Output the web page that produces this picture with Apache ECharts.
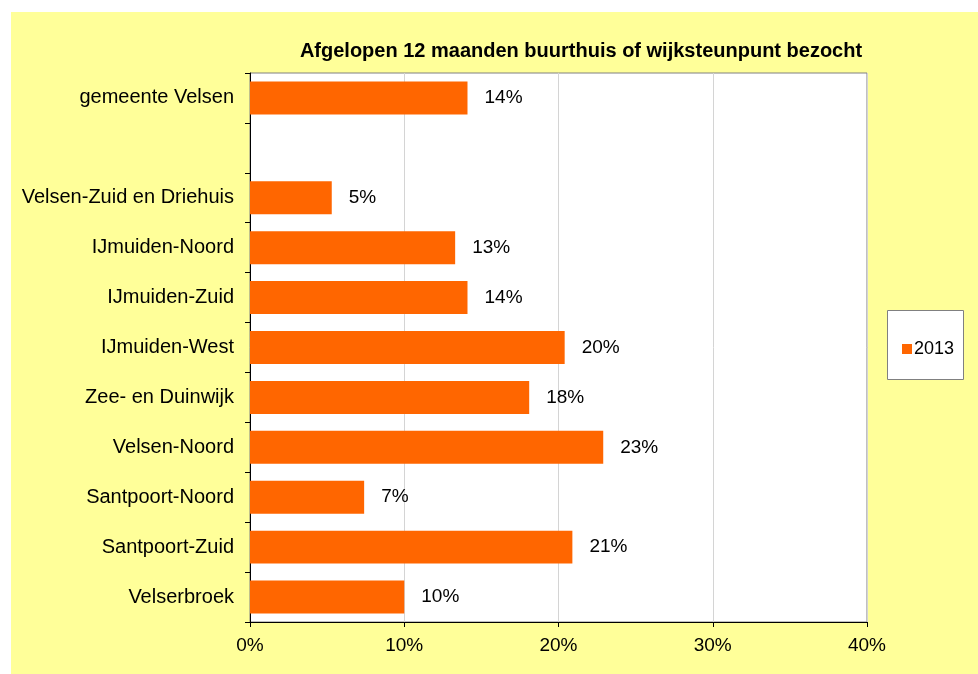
<!DOCTYPE html>
<html>
<head>
<meta charset="utf-8">
<script src="https://cdn.jsdelivr.net/npm/echarts@6/dist/echarts.min.js"></script>
<style>
html, body { margin: 0; padding: 0; background: #ffffff; }
#chart { width: 978px; height: 674px; }
</style>
</head>
<body>
<div id="chart"></div>
<script>
// categories, top to bottom (empty one is the gap under gemeente Velsen)
var wijken = ['gemeente Velsen', '', 'Velsen-Zuid en Driehuis', 'IJmuiden-Noord', 'IJmuiden-Zuid',
    'IJmuiden-West', 'Zee- en Duinwijk', 'Velsen-Noord', 'Santpoort-Noord', 'Santpoort-Zuid', 'Velserbroek'];
var bezocht2013 = [14.1, null, 5.3, 13.3, 14.1, 20.4, 18.1, 22.9, 7.4, 20.9, 10.0];
var xTicks = [0, 10, 20, 30, 40];

var myChart = echarts.init(document.getElementById('chart'));
var font = 'Liberation Sans, Arial, sans-serif';

var option = {
    backgroundColor: '#ffffff',
    animation: false,
    graphic: [{
        type: 'rect',
        z: -10,
        shape: { x: 11, y: 12, width: 967, height: 662 },
        style: { fill: '#ffff99' }
    }, {
        type: 'rect',
        z: 5,
        shape: { x: 887.5, y: 310.5, width: 76, height: 69 },
        style: { fill: '#ffffff', stroke: '#808080', lineWidth: 1 }
    }],
    title: {
        text: 'Afgelopen 12 maanden buurthuis of wijksteunpunt bezocht',
        left: 576,
        top: 36,
        textAlign: 'center',
        textStyle: { fontFamily: font, fontSize: 20, fontWeight: 'bold', color: '#000000' }
    },
    legend: {
        left: 897,
        top: 335,
        itemWidth: 10,
        itemHeight: 10,
        itemGap: 4,
        z: 10,
        textStyle: { fontFamily: font, fontSize: 18, color: '#000000', padding: [0, 0, 0, -3] },
        data: [{ name: '2013', icon: 'rect' }]
    },
    grid: {
        left: 250,
        right: 111,
        top: 73,
        bottom: 52,
        show: true,
        backgroundColor: '#ffffff',
        borderColor: '#808080',
        borderWidth: 1
    },
    xAxis: {
        type: 'value',
        min: 0,
        max: 40,
        interval: 10,
        axisLine: { show: true, lineStyle: { color: '#000000' } },
        axisTick: { show: true, length: 5, lineStyle: { color: '#000000' } },
        axisLabel: {
            fontFamily: font, fontSize: 19, color: '#000000', margin: 14,
            formatter: function (v) { return xTicks.indexOf(v) >= 0 ? v + '%' : ''; }
        },
        splitLine: { show: true, lineStyle: { color: '#d4d4d4', width: 1 } }
    },
    yAxis: {
        type: 'category',
        inverse: true,
        data: wijken,
        axisLine: { show: true, lineStyle: { color: '#000000' } },
        axisTick: { show: true, length: 5, alignWithLabel: false, lineStyle: { color: '#000000' } },
        axisLabel: { fontFamily: font, fontSize: 20, color: '#000000', margin: 16 }
    },
    series: [{
        name: '2013',
        type: 'bar',
        data: bezocht2013,
        barCategoryGap: '34%',
        itemStyle: { color: '#ff6600' },
        label: {
            show: true,
            position: 'right',
            distance: 17,
            fontFamily: font,
            fontSize: 19,
            color: '#000000',
            formatter: function (p) { return p.value == null ? '' : Math.round(p.value) + '%'; }
        }
    }]
};
myChart.setOption(option);
window.onresize = myChart.resize;
</script>
</body>
</html>
